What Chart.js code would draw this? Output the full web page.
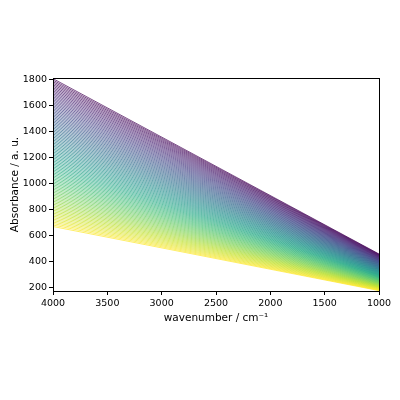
<!DOCTYPE html>
<html>
<head>
<meta charset="utf-8">
<script src="https://cdn.jsdelivr.net/npm/chart.js@4.4.0/dist/chart.umd.min.js"></script>
<style>
  html, body { margin: 0; padding: 0; background: #ffffff; }
  #wrap { width: 400px; height: 400px; }
</style>
</head>
<body>
<div id="wrap"><canvas id="c" width="400" height="400"></canvas></div>
<script>
// Wavenumber endpoints of each (straight) spectrum
const wavenumbers = [4000, 1000];

// Absorbance at 4000 cm-1 for each spectrum (top/purple to bottom/yellow)
const absorbanceAt4000 = [
  1810, 1798.5, 1787, 1775.5, 1764, 1752.5, 1741, 1729.5, 1718, 1706.5,
  1695, 1683.5, 1672, 1660.5, 1649, 1637.5, 1626, 1614.5, 1603, 1591.5,
  1580, 1568.5, 1557, 1545.5, 1534, 1522.5, 1511, 1499.5, 1488, 1476.5,
  1465, 1453.5, 1442, 1430.5, 1419, 1407.5, 1396, 1384.5, 1373, 1361.5,
  1350, 1338.5, 1327, 1315.5, 1304, 1292.5, 1281, 1269.5, 1258, 1246.5,
  1235, 1223.5, 1212, 1200.5, 1189, 1177.5, 1166, 1154.5, 1143, 1131.5,
  1120, 1108.5, 1097, 1085.5, 1074, 1062.5, 1051, 1039.5, 1028, 1016.5,
  1005, 993.5, 982, 970.5, 959, 947.5, 936, 924.5, 913, 901.5,
  890, 878.5, 867, 855.5, 844, 832.5, 821, 809.5, 798, 786.5,
  775, 763.5, 752, 740.5, 729, 717.5, 706, 694.5, 683, 671.5
];

// Absorbance at 1000 cm-1 for each spectrum
const absorbanceAt1000 = [
  460, 457.15, 454.3, 451.45, 448.6, 445.75, 442.9, 440.05, 437.2, 434.35,
  431.5, 428.65, 425.8, 422.95, 420.1, 417.25, 414.4, 411.55, 408.7, 405.85,
  403, 400.15, 397.3, 394.45, 391.6, 388.75, 385.9, 383.05, 380.2, 377.35,
  374.5, 371.65, 368.8, 365.95, 363.1, 360.25, 357.4, 354.55, 351.7, 348.85,
  346, 343.15, 340.3, 337.45, 334.6, 331.75, 328.9, 326.05, 323.2, 320.35,
  317.5, 314.65, 311.8, 308.95, 306.1, 303.25, 300.4, 297.55, 294.7, 291.85,
  289, 286.15, 283.3, 280.45, 277.6, 274.75, 271.9, 269.05, 266.2, 263.35,
  260.5, 257.65, 254.8, 251.95, 249.1, 246.25, 243.4, 240.55, 237.7, 234.85,
  232, 229.15, 226.3, 223.45, 220.6, 217.75, 214.9, 212.05, 209.2, 206.35,
  203.5, 200.65, 197.8, 194.95, 192.1, 189.25, 186.4, 183.55, 180.7, 177.85
];

const xTicks = [4000, 3500, 3000, 2500, 2000, 1500, 1000];
const yTicks = [200, 400, 600, 800, 1000, 1200, 1400, 1600, 1800];

const xLabel = 'wavenumber / cm\u207B\u00B9';
const yLabel = 'Absorbance / a. u.';

// viridis colormap stops (style)
const viridisStops = [
  [68, 1, 84], [72, 36, 117], [65, 68, 135], [53, 95, 141], [42, 120, 142],
  [33, 145, 140], [34, 168, 132], [68, 191, 112], [122, 209, 81], [189, 223, 38], [253, 231, 37]
];
function viridis(t) {
  const p = t * (viridisStops.length - 1);
  const i = Math.min(Math.floor(p), viridisStops.length - 2);
  const f = p - i;
  const a = viridisStops[i], b = viridisStops[i + 1];
  const c = a.map((v, k) => Math.round(v + (b[k] - v) * f));
  return `rgb(${c[0]},${c[1]},${c[2]})`;
}

const n = absorbanceAt4000.length;
const datasets = absorbanceAt4000.map((y0, i) => ({
  data: [
    { x: wavenumbers[0], y: y0 },
    { x: wavenumbers[1], y: absorbanceAt1000[i] }
  ],
  borderColor: viridis(n > 1 ? i / (n - 1) : 0),
  borderWidth: 0.7,
  pointRadius: 0,
  fill: false,
  order: n - i
}));

const FONT = "'DejaVu Sans', sans-serif";

const framePlugin = {
  id: 'frame',
  afterDatasetsDraw(chart) {
    const { ctx, chartArea: a } = chart;
    ctx.save();
    ctx.strokeStyle = '#000';
    ctx.lineWidth = 1;
    ctx.strokeRect(Math.round(a.left) + 0.5, Math.round(a.top) + 0.5,
      Math.round(a.right - a.left), Math.round(a.bottom - a.top));
    ctx.restore();
  }
};

new Chart(document.getElementById('c'), {
  type: 'line',
  data: { datasets },
  plugins: [framePlugin],
  options: {
    responsive: false,
    animation: false,
    devicePixelRatio: 1,
    layout: { padding: { left: 0, right: 21, top: 78, bottom: 69 } },
    plugins: { legend: { display: false }, tooltip: { enabled: false } },
    scales: {
      x: {
        type: 'linear',
        reverse: true,
        min: 1000,
        max: 4000,
        afterBuildTicks: (axis) => { axis.ticks = xTicks.map(v => ({ value: v })); },
        afterFit: (axis) => { axis.height = 40; },
        ticks: {
          font: { family: FONT, size: 9.5 },
          color: '#000',
          padding: 3,
          maxRotation: 0,
          autoSkip: false,
          callback: (v) => String(v)
        },
        grid: {
          display: true,
          drawOnChartArea: false,
          drawTicks: true,
          tickLength: 4,
          tickColor: '#000',
          tickWidth: 1
        },
        border: { display: true, color: '#000', width: 1 },
        title: {
          display: true,
          text: xLabel,
          font: { family: FONT, size: 10.5 },
          color: '#000',
          padding: { top: 0, bottom: 6 }
        }
      },
      y: {
        type: 'linear',
        min: 175,
        max: 1815,
        afterBuildTicks: (axis) => { axis.ticks = yTicks.map(v => ({ value: v })); },
        afterFit: (axis) => { axis.width = 53; },
        ticks: {
          font: { family: FONT, size: 9.5 },
          color: '#000',
          padding: 2,
          autoSkip: false,
          callback: (v) => String(v)
        },
        grid: {
          display: true,
          drawOnChartArea: false,
          drawTicks: true,
          tickLength: 4,
          tickColor: '#000',
          tickWidth: 1
        },
        border: { display: true, color: '#000', width: 1 },
        title: {
          display: true,
          text: yLabel,
          font: { family: FONT, size: 10.5 },
          color: '#000',
          padding: { top: 9, bottom: 0 }
        }
      }
    }
  }
});
</script>
</body>
</html>
